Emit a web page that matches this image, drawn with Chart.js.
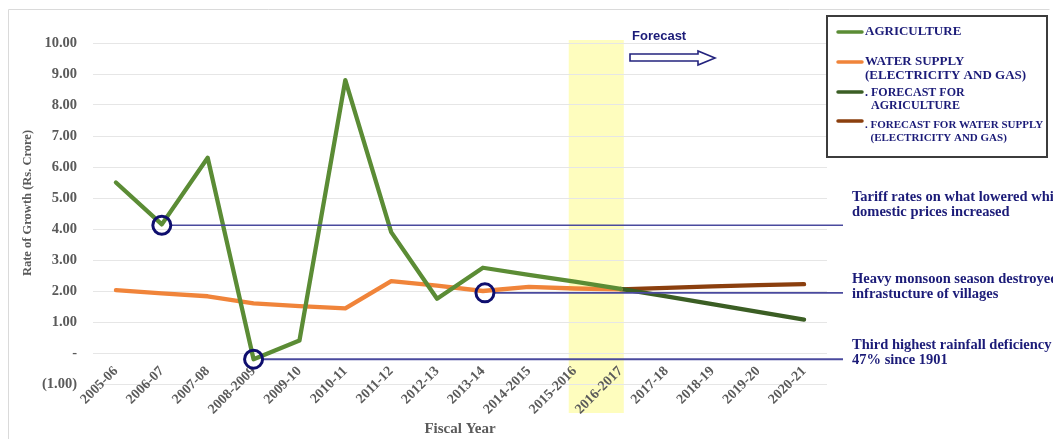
<!DOCTYPE html>
<html>
<head>
<meta charset="utf-8">
<script src="https://cdn.jsdelivr.net/npm/chart.js@4/dist/chart.umd.min.js"></script>
<style>
  html, body { margin: 0; padding: 0; background: #ffffff; }
  #wrap { position: relative; width: 1053px; height: 439px; }
</style>
</head>
<body>
<div id="wrap"><canvas id="growth" width="1053" height="439"></canvas></div>
<script>
// Fiscal years on the category axis
const categories = ['2005-06', '2006-07', '2007-08', '2008-2009', '2009-10', '2010-11', '2011-12', '2012-13',
  '2013-14', '2014-2015', '2015-2016', '2016-2017', '2017-18', '2018-19', '2019-20', '2020-21'];

// Rate of growth, Rs. Crore
const agriculture      = [5.5, 4.15, 6.3, -0.2, 0.4, 8.8, 3.9, 1.75, 2.75, 2.52, 2.3, 2.07, null, null, null, null];
const waterSupply      = [2.03, 1.92, 1.83, 1.6, 1.51, 1.44, 2.32, 2.17, 2.0, 2.13, 2.08, 2.05, null, null, null, null];
const forecastAgri     = [null, null, null, null, null, null, null, null, null, null, null, 2.07, 1.83, 1.58, 1.33, 1.08];
const forecastWater    = [null, null, null, null, null, null, null, null, null, null, null, 2.05, 2.1, 2.15, 2.19, 2.22];

// Legend entries (multi-line)
const legendLines = [
  ['AGRICULTURE'],
  ['WATER SUPPLY', '(ELECTRICITY AND GAS)'],
  ['. FORECAST FOR', '  AGRICULTURE'],
  ['. FORECAST FOR WATER SUPPLY', '  (ELECTRICITY AND GAS)']
];

// Y-axis range
const yMin = -1, yMax = 10, yStep = 1;

// Marked events: category, value, note text
const eventCategories = ['2006-07', '2013-14', '2008-2009'];
const eventValues = [4.12, 1.94, -0.2];
const eventNotes = [
  ['Tariff rates on what lowered while', 'domestic prices increased'],
  ['Heavy monsoon season destroyed', 'infrastucture of villages'],
  ['Third highest rainfall deficiency of', '47% since 1901']
];

// Highlighted forecast boundary years
const bandCategories = ['2015-2016', '2016-2017'];
const forecastLabel = 'Forecast';

const COLORS = {
  agri: '#5B8C35',
  water: '#F0843A',
  fAgri: '#3B5E24',
  fWater: '#8B3F0E',
  navy: '#1B1B78',
  noteLine: '#4A4A9E',
  axisText: '#5A5A5A',
  grid: '#E6E6E6'
};

const SERIF = '"Liberation Serif", "Times New Roman", serif';

const overlay = {
  id: 'overlay',
  afterLayout(chart) {
    // let the rotated year labels rise into the plot margin without being cut
    chart.scales.x._computeLabelArea = () => undefined;
  },
  beforeDraw(chart) {
    const { ctx, scales: { x } } = chart;
    ctx.save();
    // outer frame
    ctx.strokeStyle = '#DADADA';
    ctx.lineWidth = 1;
    ctx.beginPath();
    ctx.moveTo(8.5, 439);
    ctx.lineTo(8.5, 9.5);
    ctx.lineTo(1049.5, 9.5);
    ctx.stroke();
    // yellow forecast-boundary band
    const step = x.getPixelForValue(1) - x.getPixelForValue(0);
    const left = x.getPixelForValue(categories.indexOf(bandCategories[0])) - step * 0.13;
    const right = x.getPixelForValue(categories.indexOf(bandCategories[1])) + step * 0.07;
    ctx.fillStyle = '#FEFDBE';
    ctx.fillRect(left, 40, right - left, 373);
    ctx.restore();
  },
  afterDatasetsDraw(chart) {
    const { ctx, chartArea, scales: { x, y } } = chart;
    ctx.save();
    const lineEnd = chartArea.right + 16;
    eventCategories.forEach((cat, i) => {
      const cx = x.getPixelForValue(categories.indexOf(cat)) + (i === 1 ? 2 : 0);
      const cy = y.getPixelForValue(eventValues[i]);
      ctx.strokeStyle = COLORS.noteLine;
      ctx.lineWidth = i === 2 ? 2 : 1.6;
      ctx.beginPath();
      ctx.moveTo(cx + 9, cy);
      ctx.lineTo(lineEnd, cy);
      ctx.stroke();
      ctx.strokeStyle = '#0E0E6E';
      ctx.lineWidth = 3;
      ctx.beginPath();
      ctx.arc(cx, cy, 9, 0, Math.PI * 2);
      ctx.stroke();
    });
    ctx.restore();
  },
  afterDraw(chart) {
    const { ctx, scales: { y } } = chart;
    ctx.save();

    // event notes
    ctx.fillStyle = COLORS.navy;
    ctx.font = 'bold 14.5px ' + SERIF;
    ctx.textBaseline = 'middle';
    ctx.textAlign = 'left';
    eventNotes.forEach((lines, i) => {
      const cy = y.getPixelForValue(eventValues[i]);
      const offsets = i === 0 ? [-28, -13] : [-14, 1];
      lines.forEach((t, k) => ctx.fillText(t, 852, cy + offsets[k]));
    });

    // legend box
    ctx.strokeStyle = '#3C3C3C';
    ctx.lineWidth = 2;
    ctx.strokeRect(827, 16, 220, 141);
    const legendColors = [COLORS.agri, COLORS.water, COLORS.fAgri, COLORS.fWater];
    const legendSizes = [13, 13, 12, 11];
    const sampleY = [32, 62, 92, 121];
    const textY = [[32], [62, 76], [93, 106], [125, 138]];
    legendLines.forEach((lines, i) => {
      ctx.strokeStyle = legendColors[i];
      ctx.lineWidth = 3.5;
      ctx.lineCap = 'round';
      ctx.beginPath();
      ctx.moveTo(838, sampleY[i]);
      ctx.lineTo(862, sampleY[i]);
      ctx.stroke();
      ctx.fillStyle = COLORS.navy;
      ctx.font = 'bold ' + legendSizes[i] + 'px ' + SERIF;
      lines.forEach((t, k) => ctx.fillText(t, 865, textY[i][k]));
    });

    // forecast label and hollow arrow
    ctx.font = 'bold 13px "Liberation Sans", Arial, sans-serif';
    ctx.fillStyle = COLORS.navy;
    ctx.fillText(forecastLabel, 632, 36);
    ctx.lineCap = 'butt';
    ctx.lineJoin = 'miter';
    ctx.strokeStyle = '#23237E';
    ctx.lineWidth = 1.6;
    ctx.fillStyle = '#FFFFFF';
    ctx.beginPath();
    ctx.moveTo(630, 54);
    ctx.lineTo(698, 54);
    ctx.lineTo(698, 51);
    ctx.lineTo(715, 58);
    ctx.lineTo(698, 65);
    ctx.lineTo(698, 61);
    ctx.lineTo(630, 61);
    ctx.closePath();
    ctx.fill();
    ctx.stroke();

    // y-axis title
    ctx.translate(28, 203);
    ctx.rotate(-Math.PI / 2);
    ctx.textAlign = 'center';
    ctx.fillStyle = COLORS.axisText;
    ctx.font = 'bold 12.5px ' + SERIF;
    ctx.fillText('Rate of Growth (Rs. Crore)', 0, 0);
    ctx.restore();
  }
};

const lineStyle = (color) => ({
  borderColor: color,
  backgroundColor: color,
  borderWidth: 4.3,
  pointRadius: 0,
  tension: 0,
  spanGaps: false,
  borderJoinStyle: 'round',
  borderCapStyle: 'round'
});

new Chart(document.getElementById('growth'), {
  type: 'line',
  data: {
    labels: categories,
    datasets: [
      { label: legendLines[0].join(' '), data: agriculture, ...lineStyle(COLORS.agri) },
      { label: legendLines[1].join(' '), data: waterSupply, ...lineStyle(COLORS.water) },
      { label: legendLines[2].join(' '), data: forecastAgri, ...lineStyle(COLORS.fAgri) },
      { label: legendLines[3].join(' '), data: forecastWater, ...lineStyle(COLORS.fWater) }
    ]
  },
  options: {
    responsive: false,
    animation: false,
    events: [],
    layout: { padding: { top: 43, right: 226, bottom: 0, left: 0 } },
    plugins: {
      legend: { display: false },
      tooltip: { enabled: false },
      title: { display: false }
    },
    scales: {
      x: {
        offset: true,
        grid: { display: false, drawTicks: false },
        border: { display: false },
        ticks: {
          minRotation: 45,
          maxRotation: 45,
          autoSkip: false,
          padding: -21,
          color: COLORS.axisText,
          font: { family: SERIF, size: 14, weight: 'bold' }
        },
        title: {
          display: true,
          text: 'Fiscal Year',
          color: COLORS.axisText,
          font: { family: SERIF, size: 15, weight: 'bold' },
          padding: { top: 0, bottom: 1 }
        },
        afterFit(scale) { scale.height = 55; }
      },
      y: {
        min: yMin,
        max: yMax,
        grid: { color: COLORS.grid, lineWidth: 1, drawTicks: false },
        border: { display: false },
        ticks: {
          stepSize: yStep,
          padding: 16,
          color: COLORS.axisText,
          font: { family: SERIF, size: 14.5, weight: 'bold' },
          callback(v) {
            if (v === 0) return '-';
            if (v < 0) return '(' + Math.abs(v).toFixed(2) + ')';
            return v.toFixed(2);
          }
        },
        afterFit(scale) { scale.width = 93; }
      }
    }
  },
  plugins: [overlay]
});
</script>
</body>
</html>
